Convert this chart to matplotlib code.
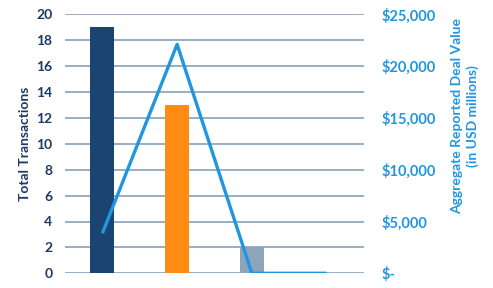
import matplotlib
matplotlib.use("Agg")
import matplotlib.pyplot as plt
from matplotlib.ticker import FuncFormatter

categories = ["A", "B", "C", "D"]
transactions = [19, 13, 2, 0]
deal_value = [3860, 22100, 0, 0]
bar_colors = ["#1b4472", "#ff8c12", "#8ea4bb", "#8ea4bb"]

plt.rcParams['font.family'] = ['Lato', 'DejaVu Sans']

fig = plt.figure(figsize=(4.93, 2.88), dpi=100)
ax = fig.add_axes([65/493, (288-273.3)/288, (364-65)/493, (273.3-14.3)/288])
x = list(range(len(categories)))
ax.bar(x, transactions, width=0.32, color=bar_colors, zorder=3)
ax.set_xlim(-0.5, 3.5)
ax.set_ylim(0, 20)
ax.set_yticks(range(0, 21, 2))
ax.grid(axis='y', color='#7f99b2', linewidth=1.1, zorder=0)
ax.set_axisbelow(True)
for s in ax.spines.values():
    s.set_visible(False)
ax.set_xticks([])
ax.tick_params(axis='y', length=0, pad=9, labelsize=10, labelcolor='#1b3a66')
for t in ax.get_yticklabels():
    t.set_fontweight('bold')
ax.set_ylabel("Total Transactions", fontsize=10, fontweight='bold', color='#1b3a66')
ax.yaxis.set_label_coords(-34/299, 0.5)

ax2 = ax.twinx()
ax2.plot(x, deal_value, color='#2196e0', linewidth=2.4, zorder=4, solid_capstyle='butt')
ax2.set_ylim(0, 25000)
ax2.set_yticks(range(0, 25001, 5000))
ax2.yaxis.set_major_formatter(FuncFormatter(lambda v, p: "$-" if v == 0 else "${:,.0f}".format(v)))
for s in ax2.spines.values():
    s.set_visible(False)
ax2.tick_params(axis='y', length=0, pad=13, labelsize=10.5, labelcolor='#2196e0')
for t in ax2.get_yticklabels():
    t.set_fontweight('bold')
ax2.set_ylabel("Aggregate Reported Deal Value\n(in USD millions)", fontsize=10,
               fontweight='bold', color='#2196e0', linespacing=1.3)
ax2.yaxis.set_label_coords(1 + 87/299, (273.3-116)/259)

fig.savefig("out.png", dpi=100)
